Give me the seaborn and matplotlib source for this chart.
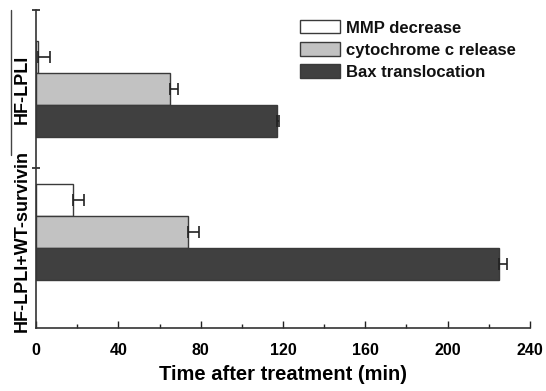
import matplotlib
matplotlib.use("Agg")
import matplotlib.pyplot as plt
import matplotlib.lines as mlines
import seaborn as sns
import pandas as pd
import numpy as np

groups = ["HF-LPLI", "HF-LPLI+WT-survivin"]
series = ["MMP decrease", "cytochrome c release", "Bax translocation"]
mmp = [1, 18]
mmp_err = [6, 5.5]
cyto = [65, 74]
cyto_err = [4, 5]
bax = [117, 225]
bax_err = [1, 4]
colors = ["#ffffff", "#c2c2c2", "#404040"]
x_ticks = [0, 40, 80, 120, 160, 200, 240]

vals = [mmp, cyto, bax]
errs = [mmp_err, cyto_err, bax_err]
rows = []
for s, v in zip(series, vals):
    for g, x in zip(groups, v):
        rows.append({"group": g, "series": s, "time": x})
df = pd.DataFrame(rows)

sns.set_theme(style="ticks")
plt.rcParams["font.family"] = ["Liberation Sans", "DejaVu Sans"]

fig = plt.figure(figsize=(5.46, 3.91), dpi=100)
ax = fig.add_axes([36/546, 1-328/391, 494/546, 318/391])

sns.barplot(data=df, y="group", x="time", hue="series", hue_order=series,
            order=groups, palette=colors, orient="h", width=0.67,
            edgecolor="#3a3a3a", linewidth=1.0, errorbar=None, ax=ax,
            saturation=1)

for cont, e in zip(ax.containers, errs):
    for bar, ev in zip(cont, e):
        yc = bar.get_y() + bar.get_height() / 2
        w = bar.get_width()
        ax.errorbar([w], [yc], xerr=[[0], [ev]], fmt="none", ecolor="#222222",
                    elinewidth=1.2, capsize=4, capthick=1.2)

ax.set_xlim(0, 240)
ax.set_ylim(1.671, -0.552)
ax.set_xticks(x_ticks)
ax.set_xticks([20, 60, 100, 140, 180, 220], minor=True)
ax.tick_params(axis="x", which="major", direction="in", length=5, width=1,
               labelsize=11.5, pad=11, colors="#222222")
ax.tick_params(axis="x", which="minor", direction="in", length=3, width=1, colors="#222222")
for t in ax.get_xticklabels():
    t.set_fontweight("bold")
    t.set_color("black")

ax.set_yticks([0, 1.063])
ax.set_yticklabels(groups, rotation=90, va="center", ha="center",
                   fontsize=13, fontweight="bold", color="black")
ax.tick_params(axis="y", which="major", length=0, pad=10)
ax.set_yticks([-0.552, 0.552], minor=True)
ax.tick_params(axis="y", which="minor", direction="inout", length=6, width=1.2, colors="#222222")

ax.set_ylabel("")
ax.set_xlabel("Time after treatment (min)", fontsize=14.5, fontweight="bold",
              labelpad=5, color="black")
for sp in ["top", "right"]:
    ax.spines[sp].set_visible(False)
for sp in ["left", "bottom"]:
    ax.spines[sp].set_color("#333333")
    ax.spines[sp].set_linewidth(1.2)

leg = ax.legend(loc="upper left", bbox_to_anchor=(0.534, 0.968), frameon=False,
                fontsize=12, handlelength=2.4, handleheight=0.85,
                labelspacing=0.4, handletextpad=0.4, borderaxespad=0, borderpad=0)
for t in leg.get_texts():
    t.set_fontweight("bold")
    t.set_color("#111111")

fig.add_artist(mlines.Line2D([11/546, 11/546], [1-10/391, 1-155/391],
                             color="#444444", linewidth=1.0))

fig.savefig("out.png", dpi=100)
